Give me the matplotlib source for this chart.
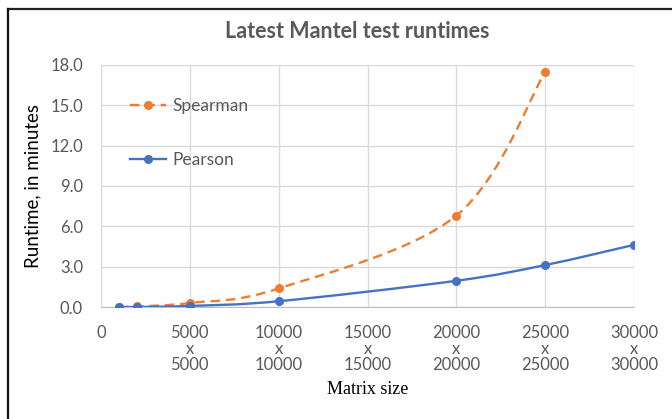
import numpy as np
import matplotlib
matplotlib.use("Agg")
import matplotlib.pyplot as plt
from matplotlib.path import Path
from matplotlib.patches import PathPatch
from matplotlib.lines import Line2D

# data
pearson_size = [1000, 2000, 5000, 10000, 20000, 25000, 30000]
pearson_min = [0.0, 0.0, 0.08, 0.43, 1.95, 3.12, 4.62]
spearman_size = [1000, 2000, 5000, 10000, 20000, 25000]
spearman_min = [0.0, 0.04, 0.3, 1.38, 6.8, 17.5]

x_ticks = [0, 5000, 10000, 15000, 20000, 25000, 30000]
x_tick_labels = ["0"] + [f"{v}\nx\n{v}" for v in x_ticks[1:]]
y_ticks = [0, 3, 6, 9, 12, 15, 18]

ORANGE = "#ED7D31"
BLUE = "#4472C4"
GRAY = "#595959"
FONT = "Lato"


def smooth_path(xs, ys):
    # Excel-like smoothed line: cubic bezier segments through the points
    pts = np.column_stack([xs, ys]).astype(float)
    n = len(pts)
    verts = [pts[0]]
    codes = [Path.MOVETO]
    for i in range(n - 1):
        p0 = pts[i - 1] if i > 0 else pts[i]
        p1 = pts[i]
        p2 = pts[i + 1]
        p3 = pts[i + 2] if i + 2 < n else pts[i + 1]
        c1 = p1 + (p2 - p0) / 6.0
        c2 = p2 - (p3 - p1) / 6.0
        verts += [c1, c2, p2]
        codes += [Path.CURVE4] * 3
    return Path(verts, codes)


fig = plt.figure(figsize=(6.72, 4.19), dpi=100)
ax = fig.add_axes([0.1503, 0.2673, 0.7932, 0.5776])

ax.add_patch(PathPatch(smooth_path(spearman_size, spearman_min), fill=False,
                       edgecolor=ORANGE, lw=1.7, linestyle=(0, (4, 2.5)),
                       capstyle="butt", zorder=3))
ax.plot(spearman_size, spearman_min, "o", color=ORANGE, ms=5.5, zorder=4)
ax.add_patch(PathPatch(smooth_path(pearson_size, pearson_min), fill=False,
                       edgecolor=BLUE, lw=1.7, zorder=3))
ax.plot(pearson_size, pearson_min, "o", color=BLUE, ms=5.5, zorder=4)

ax.set_xlim(0, 30000)
ax.set_ylim(0, 18)
ax.set_xticks(x_ticks)
ax.set_xticklabels(x_tick_labels, fontsize=12, color=GRAY, family=FONT,
                   linespacing=1.0, va="top")
ax.set_yticks(y_ticks)
ax.set_yticklabels([f"{v:.1f}" for v in y_ticks], fontsize=12, color=GRAY,
                   family=FONT)
ax.tick_params(axis="x", length=0, pad=13)
ax.tick_params(axis="y", length=0, pad=13)
ax.grid(True, color="#d9d9d9", lw=1)
ax.set_axisbelow(True)
for s in ["top", "right", "left"]:
    ax.spines[s].set_visible(False)
ax.spines["bottom"].set_color("#bfbfbf")

ax.set_ylabel("Runtime, in minutes", fontsize=13.5, family=FONT, labelpad=6)
ax.set_xlabel("Matrix size", fontsize=13, family="Liberation Serif", labelpad=6)
fig.text(0.532, 0.925, "Latest Mantel test runtimes", ha="center", va="center",
         fontsize=15.5, fontweight="bold", color=GRAY, family=FONT)

handles = [
    Line2D([], [], color=ORANGE, lw=1.7, linestyle=(0, (4, 2.5)), marker="o", ms=5.5),
    Line2D([], [], color=BLUE, lw=1.7, marker="o", ms=5.5),
]
ax.legend(handles, ["Spearman", "Pearson"], loc="upper left",
          bbox_to_anchor=(0.054, 0.862), frameon=False, borderpad=0,
          borderaxespad=0, labelspacing=2.15, handlelength=2.07,
          handletextpad=0.4, prop={"family": FONT, "size": 12.5},
          labelcolor=GRAY)

# chart border (top and left edges visible in the crop)
fig.add_artist(Line2D([8 / 672, 1], [1 - 9 / 419] * 2, transform=fig.transFigure,
                      color="#222222", lw=1.6))
fig.add_artist(Line2D([8 / 672] * 2, [0, 1 - 9 / 419], transform=fig.transFigure,
                      color="#111111", lw=1.6))

fig.savefig("out.png", dpi=100)
